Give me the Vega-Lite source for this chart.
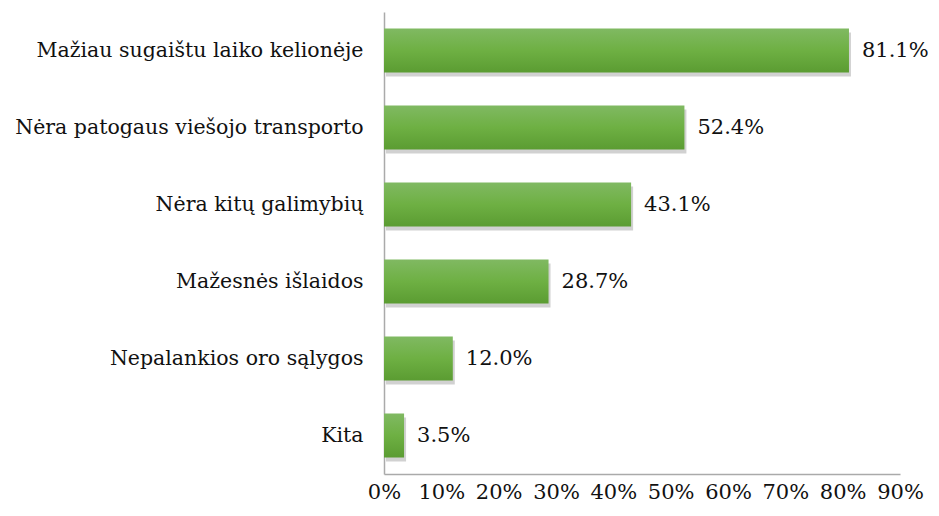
{
  "$schema": "https://vega.github.io/schema/vega-lite/v6.json",
  "width": 516,
  "height": 462,
  "autosize": "none",
  "padding": {"left": 384, "top": 12, "right": 39, "bottom": 42},
  "background": "white",
  "config": {"view": {"stroke": null}, "font": "DejaVu Serif"},
  "data": {"values": [
    {"label": "Mažiau sugaištu laiko kelionėje", "value": 81.1},
    {"label": "Nėra patogaus viešojo transporto", "value": 52.4},
    {"label": "Nėra kitų galimybių", "value": 43.1},
    {"label": "Mažesnės išlaidos", "value": 28.7},
    {"label": "Nepalankios oro sąlygos", "value": 12.0},
    {"label": "Kita", "value": 3.5}
  ]},
  "encoding": {
    "y": {"field": "label", "type": "nominal", "sort": null,
      "scale": {"paddingInner": 0.43, "paddingOuter": 0.215},
      "axis": {"title": null, "ticks": false, "labelPadding": 21, "labelFontSize": 20.5, "labelColor": "#111", "domainColor": "#aaaaaa", "domainWidth": 1.5, "labelLimit": 400, "labelFont": "DejaVu Serif"}},
    "x": {"field": "value", "type": "quantitative",
      "scale": {"domain": [0, 90], "nice": false},
      "axis": {"title": null, "values": [0,10,20,30,40,50,60,70,80,90], "labelExpr": "datum.value + '%'", "ticks": false, "grid": false, "labelPadding": 7, "labelFontSize": 21, "labelColor": "#111", "domainColor": "#aaaaaa", "domainWidth": 1.5, "labelFont": "DejaVu Serif", "labelFlush": false}}
  },
  "layer": [
    {"mark": {"type": "bar", "color": "#000000", "opacity": 0.18, "xOffset": 2, "yOffset": 4}},
    {"mark": {"type": "bar", "color": {"gradient": "linear", "x1": 0, "y1": 0, "x2": 0, "y2": 1, "stops": [{"offset": 0, "color": "#80b962"}, {"offset": 0.5, "color": "#6eb043"}, {"offset": 1, "color": "#5b9c32"}]}}},
    {"mark": {"type": "text", "align": "left", "dx": 13, "fontSize": 21, "color": "#111", "font": "DejaVu Serif", "text": {"expr": "format(datum.value, '.1f') + '%'"}}}
  ]
}
